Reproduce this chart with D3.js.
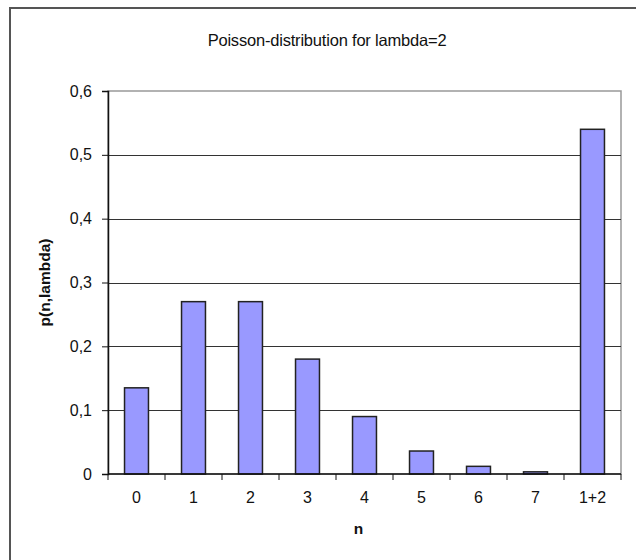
<!DOCTYPE html>
<html>
<head>
<meta charset="utf-8">
<script src="https://cdn.jsdelivr.net/npm/d3@7"></script>
<style>
  body { margin: 0; background: #fff; }
  svg { display: block; font-family: "Liberation Sans", Arial, sans-serif; }
</style>
</head>
<body>
<svg id="chart" width="637" height="560"></svg>
<script>
// chart data
const categories = ["0", "1", "2", "3", "4", "5", "6", "7", "1+2"];
const probabilities = [0.135, 0.27, 0.27, 0.18, 0.09, 0.036, 0.012, 0.0034, 0.54];
const yTicks = [0, 0.1, 0.2, 0.3, 0.4, 0.5, 0.6];

const svg = d3.select("#chart");
const width = 637;
const height = 560;
const margin = { top: 91, right: 16, bottom: 86, left: 108 };
const plotW = width - margin.left - margin.right;
const plotH = height - margin.top - margin.bottom;

// outer chart border (only top and left visible in the crop)
svg.append("path")
    .attr("d", `M10,${height} L10,8 L636,8`)
    .attr("fill", "none")
    .attr("stroke", "#555")
    .attr("stroke-width", 2);

svg.append("text")
    .attr("x", 327)
    .attr("y", 46)
    .attr("text-anchor", "middle")
    .attr("font-size", "16.5px")
    .attr("letter-spacing", "-0.2px")
    .attr("fill", "#111")
    .text("Poisson-distribution for lambda=2");

const g = svg.append("g")
    .attr("transform", `translate(${margin.left},${margin.top})`);

const x = d3.scaleBand()
    .domain(categories)
    .range([0, plotW])
    .paddingInner(0.58)
    .paddingOuter(0.29);

const y = d3.scaleLinear()
    .domain([0, 0.6])
    .range([plotH, 0]);

// plot area border (gray on top/right)
g.append("rect")
    .attr("x", 0).attr("y", 0)
    .attr("width", plotW).attr("height", plotH)
    .attr("fill", "none")
    .attr("stroke", "#999")
    .attr("stroke-width", 1.5);

// gridlines
g.selectAll(".grid")
    .data(yTicks.filter(d => d > 0 && d < 0.6))
    .enter()
    .append("line")
    .attr("x1", 0).attr("x2", plotW)
    .attr("y1", d => Math.round(y(d)) + 0.5)
    .attr("y2", d => Math.round(y(d)) + 0.5)
    .attr("stroke", "#333")
    .attr("stroke-width", 1.2);

// bars
g.selectAll(".bar")
    .data(probabilities)
    .enter()
    .append("rect")
    .attr("x", (d, i) => x(categories[i]))
    .attr("y", d => y(d))
    .attr("width", x.bandwidth())
    .attr("height", d => y(0) - y(d))
    .attr("fill", "#9999ff")
    .attr("stroke", "#222")
    .attr("stroke-width", 1.5);

// y axis
const yAxis = d3.axisLeft(y)
    .tickValues(yTicks)
    .tickSize(6)
    .tickPadding(10)
    .tickFormat(d => d === 0 ? "0" : d3.format(".1f")(d).replace(".", ","));

const yG = g.append("g").call(yAxis);
yG.select(".domain").attr("stroke", "#111").attr("stroke-width", 1.5);
yG.selectAll(".tick line").attr("stroke", "#111");
yG.selectAll("text")
    .attr("font-size", "16px")
    .attr("fill", "#111")
    .attr("font-family", "Liberation Sans, Arial, sans-serif");

// x axis with ticks at category boundaries
const xG = g.append("g").attr("transform", `translate(0,${plotH})`);
xG.append("line")
    .attr("x1", 0).attr("x2", plotW)
    .attr("stroke", "#111")
    .attr("stroke-width", 1.5);
const step = x.step();
xG.selectAll(".xtick")
    .data(d3.range(categories.length + 1))
    .enter()
    .append("line")
    .attr("x1", i => i * step)
    .attr("x2", i => i * step)
    .attr("y1", 0)
    .attr("y2", 6)
    .attr("stroke", "#111");
xG.selectAll(".xlabel")
    .data(categories)
    .enter()
    .append("text")
    .attr("x", d => x(d) + x.bandwidth() / 2)
    .attr("y", 29)
    .attr("text-anchor", "middle")
    .attr("font-size", "16px")
    .attr("fill", "#111")
    .text(d => d);

// axis titles
svg.append("text")
    .attr("x", margin.left + plotW / 2 - 6)
    .attr("y", 534)
    .attr("text-anchor", "middle")
    .attr("font-size", "15.5px")
    .attr("font-weight", "bold")
    .attr("fill", "#111")
    .text("n");

svg.append("text")
    .attr("transform", `translate(50,${margin.top + plotH / 2}) rotate(-90)`)
    .attr("text-anchor", "middle")
    .attr("font-size", "15.5px")
    .attr("font-weight", "bold")
    .attr("fill", "#111")
    .text("p(n,lambda)");
</script>
</body>
</html>
